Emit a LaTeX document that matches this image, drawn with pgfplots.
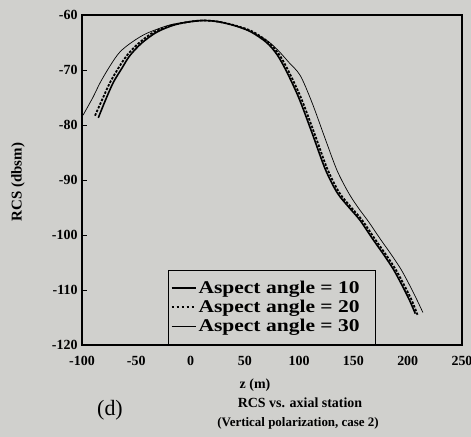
\documentclass[border=0pt]{standalone}
\usepackage{fontspec}
\setmainfont{Liberation Serif}
\newfontfamily\legfont{Liberation Serif}[FakeStretch=1.2]
\usepackage{pgfplots}
\pgfplotsset{compat=1.18}
\usetikzlibrary{backgrounds}
\definecolor{paper}{RGB}{208,208,205}

\begin{document}
\begin{tikzpicture}
\useasboundingbox (-82bp,-92bp) rectangle (389bp,345bp);
\begin{axis}[
    at={(0,0)}, anchor=south west,
    scale only axis, width=380bp, height=330bp,
    xmin=-100, xmax=250, ymin=-120, ymax=-60,
    xtick={-100,-50,...,250}, ytick={-120,-110,...,-60},
    axis line style={line width=1.5bp},
    ytick pos=left, xtick pos=bottom,
    major tick length=5bp, x tick style={draw=none},
    tick style={line width=1bp, black},
    ticklabel style={font=\fontsize{14}{16}\selectfont\bfseries},
    /pgf/number format/assume math mode=true,
    yticklabel style={xshift=-1bp},
    xticklabel style={yshift=-8bp},
    legend style={at={(axis cs:-21,-120)}, anchor=south west,
        draw=black, line width=1.5bp, fill=paper,
        font=\legfont\fontsize{18}{20}\selectfont\bfseries,
        inner xsep=2bp, inner ysep=9bp, row sep=1bp},
    legend cell align=left,
    legend image code/.code={\draw[#1] (0bp,0bp) -- (24bp,0bp);},
]
\addlegendimage{black, line width=2bp}
\addlegendentry{Aspect angle = 10\rule{12bp}{0pt}}
\addlegendimage{black, line width=2bp, dash pattern=on 2.5bp off 2.5bp}
\addlegendentry{Aspect angle = 20\rule{12bp}{0pt}}
\addlegendimage{black, line width=0.8bp}
\addlegendentry{Aspect angle = 30\rule{12bp}{0pt}}
\addplot[black, line width=1.6bp, smooth, forget plot] coordinates {
(-85,-78.7) (-78,-75.3) (-71,-72.2) (-63,-69.6) (-56,-67.4) (-45,-65.1)
(-31,-63.1) (-15,-61.8) (0,-61.2) (12,-61.0) (25,-61.2) (40,-61.9)
(55,-63.0) (70,-65.0) (80,-67.3) (89,-70.5) (100,-75.2) (112,-81.5)
(124,-88.0) (135,-92.3) (146,-95.0) (156,-97.3) (168,-100.8) (178,-103.6)
(187,-106.3) (196,-109.6) (202,-112.0) (207,-114.3)
};
\addplot[black, line width=1.8bp, dash pattern=on 2.5bp off 1.5bp, smooth, forget plot] coordinates {
(-88,-78.3) (-81,-75.2) (-74,-72.2) (-66,-69.5) (-58,-67.2) (-47,-65.0)
(-33,-63.0) (-16,-61.8) (0,-61.2) (12,-61.0) (25,-61.2) (41,-61.9)
(57,-63.0) (72,-65.0) (82,-67.3) (91,-70.5) (102,-75.2) (114,-81.5)
(126,-88.0) (137,-92.3) (148,-95.0) (158,-97.3) (170,-100.8) (180,-103.6)
(189,-106.3) (198,-109.6) (204,-112.0) (209,-114.5)
};
\addplot[black, line width=0.7bp, smooth, forget plot] coordinates {
(-99,-78.2) (-90,-75.0) (-83,-72.2) (-74,-69.2) (-65,-66.7) (-53,-64.8)
(-40,-63.3) (-19,-61.8) (0,-61.2) (12,-61.0) (25,-61.2) (40,-61.9)
(55,-63.0) (70,-64.6) (80,-66.3) (90,-68.5) (101,-71.0) (112,-76.0)
(124,-82.5) (135,-88.3) (146,-92.5) (155,-95.2) (164,-97.6) (175,-100.8)
(185,-103.6) (194,-106.3) (203,-109.6) (209,-112.0) (214,-114.1)
};
\end{axis}
\node[rotate=90, font=\fontsize{15}{17}\selectfont\bfseries] at (-64bp,163bp) {RCS (dbsm)};
\node[font=\fontsize{14}{16}\selectfont\bfseries] at (173bp,-40bp) {z (m)};
\node[font=\fontsize{14}{16}\selectfont\bfseries] at (218bp,-58bp) {RCS vs. axial station};
\node[font=\fontsize{13}{15}\selectfont\bfseries] at (216bp,-78bp) {(Vertical polarization, case 2)};
\node[font=\fontsize{22}{24}\selectfont] at (28bp,-65bp) {(d)};
\begin{pgfonlayer}{background}
\fill[paper] (-82bp,-92bp) rectangle (389bp,345bp);
\end{pgfonlayer}
\end{tikzpicture}
\end{document}
